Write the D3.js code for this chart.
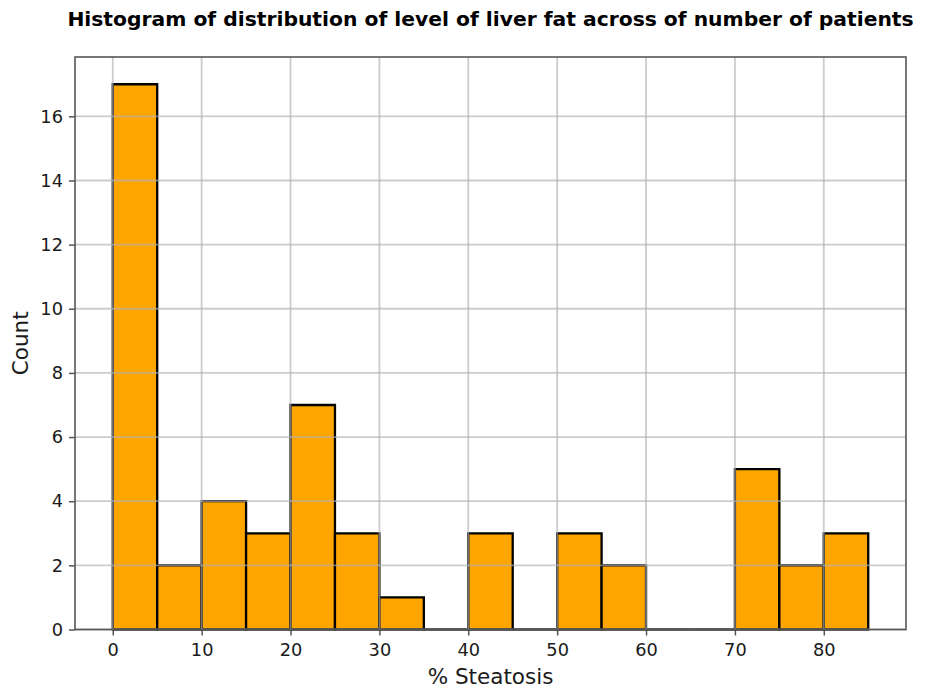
<!DOCTYPE html>
<html>
<head>
<meta charset="utf-8">
<script src="https://cdn.jsdelivr.net/npm/d3@7"></script>
<style>
  body { margin: 0; background: #fff; }
  svg { display: block; font-family: "DejaVu Sans", sans-serif; }
</style>
</head>
<body>
<svg id="chart"></svg>
<script>
// histogram bins (% steatosis) and patient counts
const binStarts = [0, 5, 10, 15, 20, 25, 30, 35, 40, 45, 50, 55, 60, 65, 70, 75, 80];
const binWidth = 5;
const counts = [17, 2, 4, 3, 7, 3, 1, 0, 3, 0, 3, 2, 0, 0, 5, 2, 3];
const xTicks = [0, 10, 20, 30, 40, 50, 60, 70, 80];
const yTicks = [0, 2, 4, 6, 8, 10, 12, 14, 16];

const chartConfig = {
  width: 926,
  height: 698,
  left: 75,
  right: 906,
  top: 57,
  bottom: 629.5,
  barFill: "#ffa500",
  barStroke: "#000",
  gridColor: "#b0b0b0",
  frameColor: "#555",
  textColor: "#1a1a1a",
  tickFont: 17.8,
  labelFont: 21.5,
  titleFont: 20.3,
};

const svg = d3.select("#chart")
  .attr("width", chartConfig.width)
  .attr("height", chartConfig.height);

// matplotlib-style 5% margins
const xMax = binStarts[binStarts.length - 1] + binWidth;
const yMax = d3.max(counts);
const x = d3.scaleLinear()
  .domain([-xMax * 0.05, xMax * 1.05])
  .range([chartConfig.left, chartConfig.right]);
const y = d3.scaleLinear()
  .domain([0, yMax * 1.05])
  .range([chartConfig.bottom, chartConfig.top]);

const bins = binStarts.map((s, i) => ({ x0: s, x1: s + binWidth, n: counts[i] }));

// bars as closed paths, so empty bins still leave their edge on the baseline
svg.append("g")
  .attr("class", "bars")
  .selectAll("path")
  .data(bins)
  .join("path")
  .attr("d", (d) => {
    const p = d3.path();
    p.moveTo(x(d.x0), y(0));
    p.lineTo(x(d.x0), y(d.n));
    p.lineTo(x(d.x1), y(d.n));
    p.lineTo(x(d.x1), y(0));
    p.closePath();
    return p.toString();
  })
  .attr("fill", chartConfig.barFill)
  .attr("stroke", chartConfig.barStroke)
  .attr("stroke-width", 2.3)
  .attr("stroke-linejoin", "miter");

// grid sits above the bars, as in the reference
const grid = svg.append("g").attr("class", "grid")
  .attr("stroke", chartConfig.gridColor)
  .attr("stroke-opacity", 0.65)
  .attr("stroke-width", 1.8);
grid.selectAll("line.v")
  .data(xTicks)
  .join("line")
  .attr("class", "v")
  .attr("x1", (d) => x(d)).attr("x2", (d) => x(d))
  .attr("y1", chartConfig.top).attr("y2", chartConfig.bottom);
grid.selectAll("line.h")
  .data(yTicks)
  .join("line")
  .attr("class", "h")
  .attr("x1", chartConfig.left).attr("x2", chartConfig.right)
  .attr("y1", (d) => y(d)).attr("y2", (d) => y(d));

// axes
const xAxis = svg.append("g")
  .attr("transform", `translate(0,${chartConfig.bottom})`)
  .call(d3.axisBottom(x).tickValues(xTicks).tickSize(6).tickPadding(8));
const yAxis = svg.append("g")
  .attr("transform", `translate(${chartConfig.left},0)`)
  .call(d3.axisLeft(y).tickValues(yTicks).tickSize(6).tickPadding(6));

[xAxis, yAxis].forEach((ax) => {
  ax.select(".domain").remove();
  ax.selectAll(".tick line")
    .attr("stroke", chartConfig.frameColor)
    .attr("stroke-width", 1.5);
  ax.selectAll(".tick text")
    .attr("fill", chartConfig.textColor)
    .style("font-family", "DejaVu Sans")
    .style("font-size", `${chartConfig.tickFont}px`);
});

// frame
svg.append("rect")
  .attr("x", chartConfig.left)
  .attr("y", chartConfig.top)
  .attr("width", chartConfig.right - chartConfig.left)
  .attr("height", chartConfig.bottom - chartConfig.top)
  .attr("fill", "none")
  .attr("stroke", chartConfig.frameColor)
  .attr("stroke-width", 1.6);

// title and labels
svg.append("text")
  .attr("x", (chartConfig.left + chartConfig.right) / 2)
  .attr("y", 26)
  .attr("text-anchor", "middle")
  .attr("font-weight", "bold")
  .attr("font-size", chartConfig.titleFont)
  .attr("fill", "#000")
  .text("Histogram of distribution of level of liver fat across of number of patients");

svg.append("text")
  .attr("x", (chartConfig.left + chartConfig.right) / 2)
  .attr("y", 684)
  .attr("text-anchor", "middle")
  .attr("font-size", chartConfig.labelFont)
  .attr("fill", chartConfig.textColor)
  .text("% Steatosis");

svg.append("text")
  .attr("transform", `translate(27.5,${(chartConfig.top + chartConfig.bottom) / 2}) rotate(-90)`)
  .attr("text-anchor", "middle")
  .attr("font-size", chartConfig.labelFont)
  .attr("fill", chartConfig.textColor)
  .text("Count");
</script>
</body>
</html>
